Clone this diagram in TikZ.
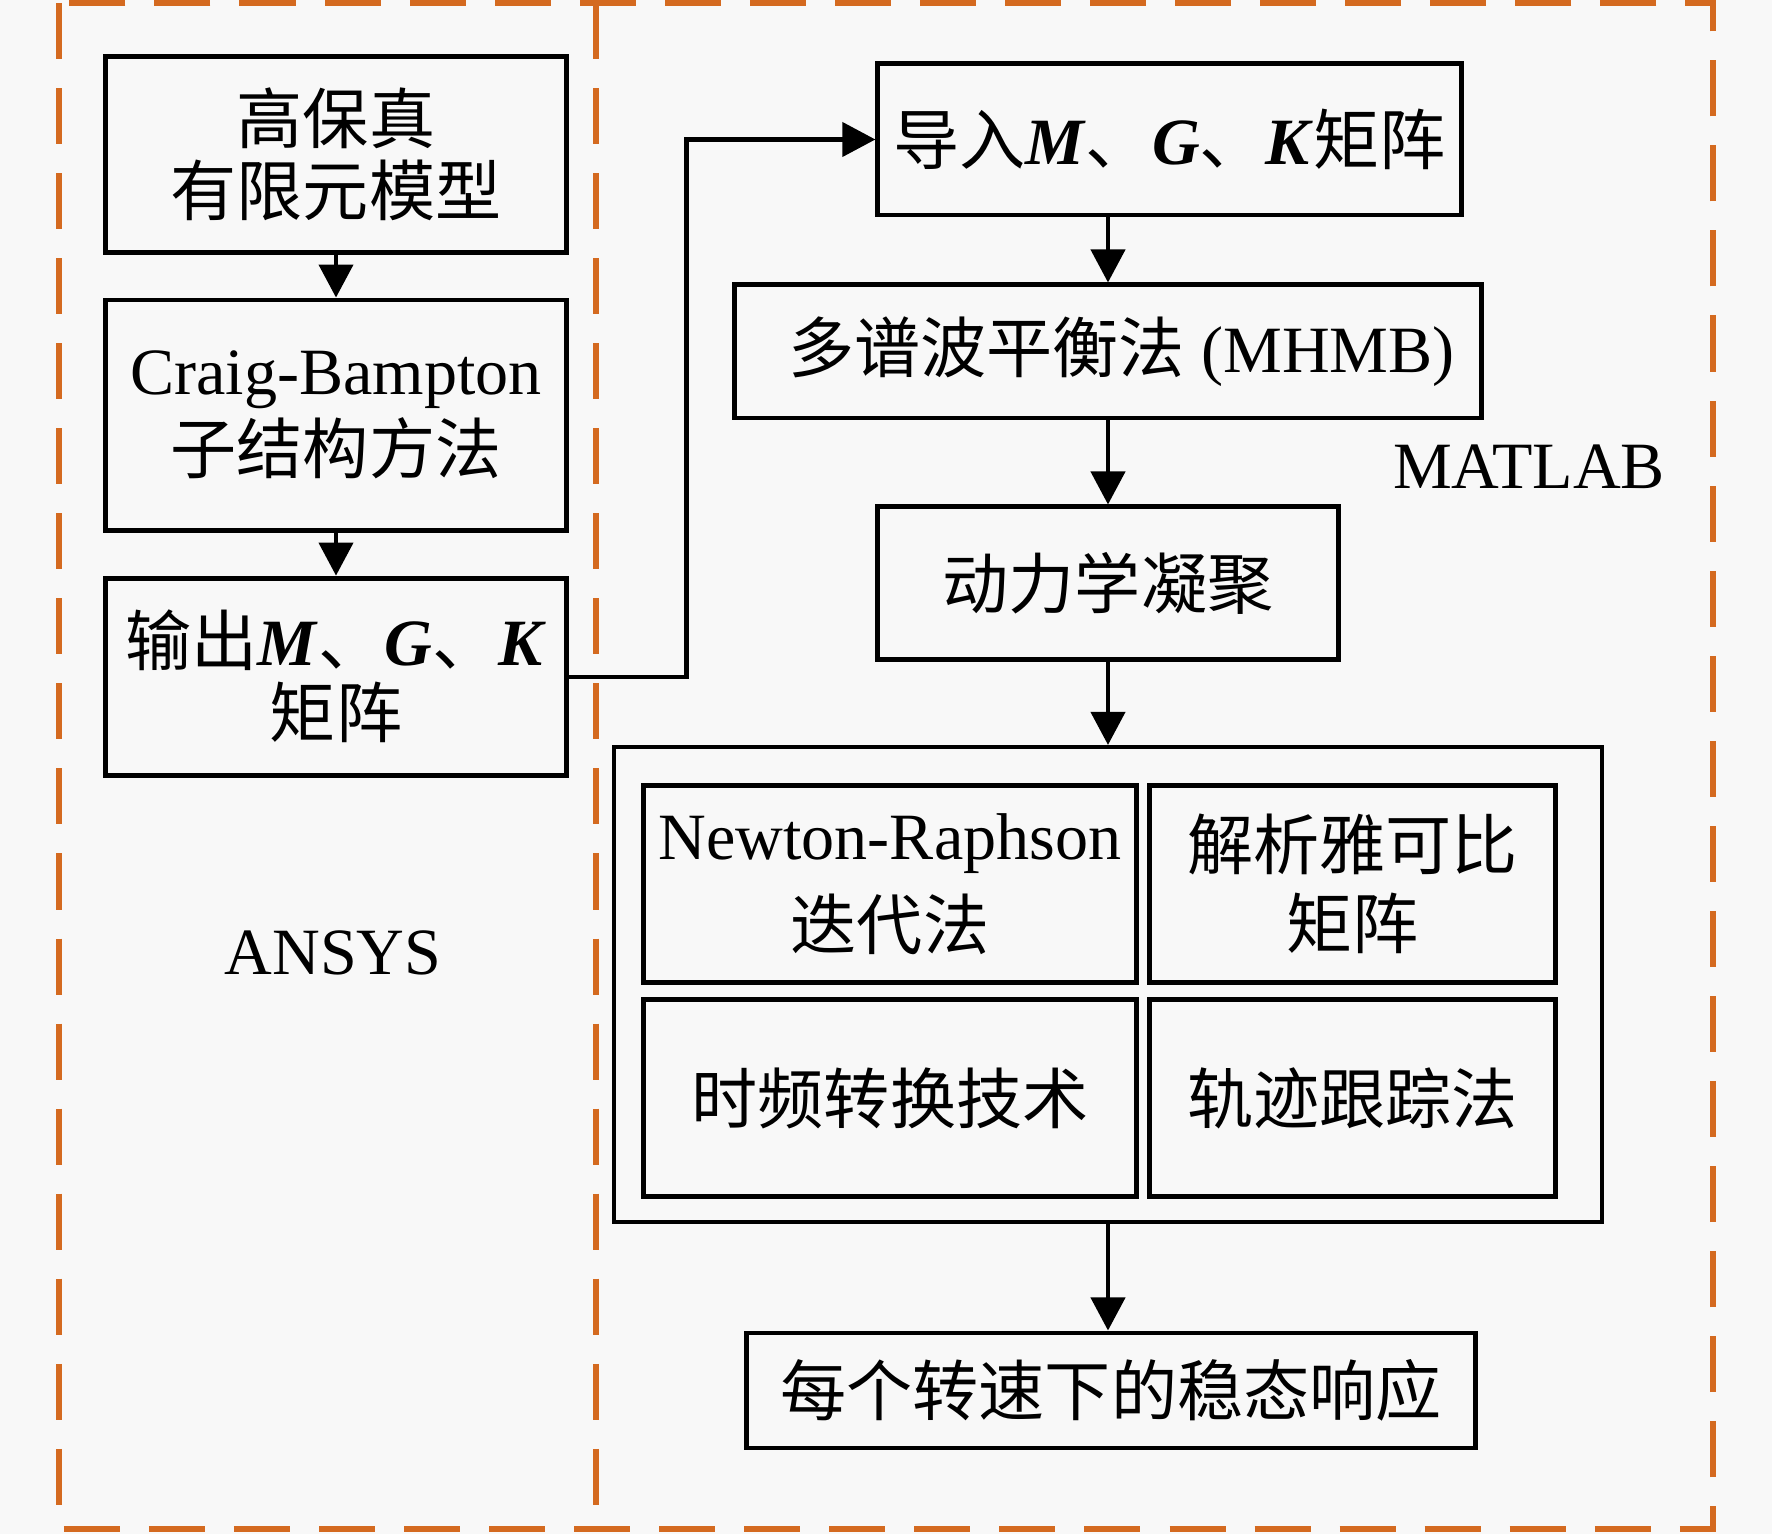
\documentclass[tikz,border=0pt]{standalone}
\usepackage{fontspec}
\setmainfont{Liberation Serif}
\newfontfamily\cjk{Noto Sans CJK SC}
\usepackage{tikz}
\usetikzlibrary{arrows.meta, positioning}
\definecolor{frameorange}{RGB}{212,106,32}
\definecolor{paper}{RGB}{248,248,248}
\newcommand{\zh}[1]{{\cjk #1}}
\newcommand{\mtx}[1]{\textbf{\textit{#1}}}
\tikzset{
block/.style={
    rectangle,
    draw=black,
    line width=1.4pt,
    fill=paper,
    align=center,
    inner sep=2pt,
    font=\fontsize{18.8}{20.5}\selectfont
},
tool/.style={
    font=\fontsize{18.8}{20.5}\selectfont
},
frame/.style={
    draw=frameorange,
    line width=1.6pt,
    dash pattern=on 0.56cm off 0.29cm
}}

\begin{document}
\begin{tikzpicture}[
        x=0.01cm, y=-0.01cm,
        >={Triangle[length=3.3mm, width=3.4mm]},
        node distance=0.43cm
    ]

    \fill[paper] (0,0) rectangle (1772,1534);
    \useasboundingbox (0,0) rectangle (1772,1534);

    % software regions
    \draw[frame] (59,3) rectangle (1713,1529);
    \draw[frame] (596,3) -- (596,1529);

    % ANSYS side
    \node[block, minimum width=4.6cm, minimum height=1.95cm] (hifi) at (336,154.5) {\zh{高保真}\\\zh{有限元模型}};
    \node[block, minimum width=4.6cm, minimum height=2.3cm, below=of hifi] (cb) {Craig-Bampton\\[2pt]\zh{子结构方法}};
    \node[block, minimum width=4.6cm, minimum height=1.97cm, below=of cb] (out) {\zh{输出}\mtx{M}\zh{、}\mtx{G}\zh{、}\mtx{K}\\\zh{矩阵}};
    \node[tool] (ansys) at (333,953) {ANSYS};

    % MATLAB side
    \node[block, minimum width=5.83cm, minimum height=1.51cm] (imp) at (1169.5,139.5) {\zh{导入}\mtx{M}\zh{、}\mtx{G}\zh{、}\mtx{K}\zh{矩阵}};
    \node[block, minimum width=7.46cm, minimum height=1.33cm] (mhb) at (1108,351.5) {\hspace*{0.27cm}\zh{多谱波平衡法} (MHMB)};
    \node[block, minimum width=4.6cm, minimum height=1.52cm] (cond) at (1108,583) {\zh{动力学凝聚}};
    \node[tool] (matlab) at (1529,467) {MATLAB};

    \node[block, line width=1.1pt, minimum width=9.88cm, minimum height=4.75cm] (sol) at (1108,984.5) {};
    \node[block, minimum width=4.92cm, minimum height=1.96cm] (nr) at (890,884) {Newton-Raphson\\[5pt]\zh{迭代法}};
    \node[block, minimum width=4.05cm, minimum height=1.96cm] (jac) at (1352.5,884) {\zh{解析雅可比}\\[2pt]\zh{矩阵}};
    \node[block, minimum width=4.92cm, minimum height=1.96cm] (aft) at (890,1098) {\zh{时频转换技术}};
    \node[block, minimum width=4.05cm, minimum height=1.96cm] (arc) at (1352.5,1098) {\zh{轨迹跟踪法}};

    \node[block, minimum width=7.28cm, minimum height=1.15cm] (resp) at (1111,1390.5) {\zh{每个转速下的稳态响应}};

    % edges
    \draw[->, line width=1.2pt] (hifi) -- (cb);
    \draw[->, line width=1.2pt] (cb) -- (out);
    \draw[->, line width=1.2pt] (out.east) -- ++(118,0) |- (imp.west);
    \draw[->, line width=1.2pt] (mhb.north |- imp.south) -- (mhb.north);
    \draw[->, line width=1.2pt] (mhb) -- (cond);
    \draw[->, line width=1.2pt] (cond) -- (sol);
    \draw[->, line width=1.2pt] (sol.south) -- (sol.south |- resp.north);

\end{tikzpicture}
\end{document}
